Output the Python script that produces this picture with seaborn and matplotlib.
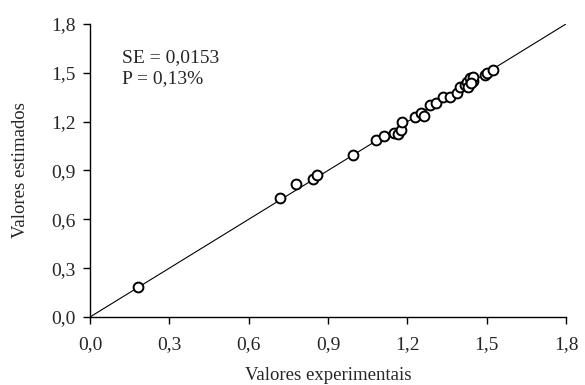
import matplotlib
matplotlib.use("Agg")
import matplotlib.pyplot as plt
import seaborn as sns
import pandas as pd

experimental = [0.18, 0.72, 0.78, 0.845, 0.86, 0.995, 1.08, 1.11, 1.15, 1.165, 1.175, 1.18,
                1.23, 1.25, 1.263, 1.286, 1.31, 1.336, 1.362, 1.387, 1.40, 1.418, 1.425,
                1.431, 1.437, 1.447, 1.45, 1.44, 1.494, 1.50, 1.525]
estimated = [0.186, 0.73, 0.815, 0.846, 0.872, 0.995, 1.085, 1.112, 1.13, 1.124, 1.149, 1.195,
             1.23, 1.255, 1.235, 1.302, 1.313, 1.353, 1.353, 1.378, 1.415, 1.425, 1.445,
             1.415, 1.466, 1.452, 1.476, 1.44, 1.487, 1.50, 1.52]
ticks = [0.0, 0.3, 0.6, 0.9, 1.2, 1.5, 1.8]
tick_labels = ["0,0", "0,3", "0,6", "0,9", "1,2", "1,5", "1,8"]
annotation = "SE = 0,0153\nP = 0,13%"

sns.set_style("white")
plt.rcParams["font.family"] = ["Liberation Serif", "DejaVu Serif"]

df = pd.DataFrame({"x": experimental, "y": estimated})

fig = plt.figure(figsize=(5.85, 3.85), dpi=100)
ax = fig.add_axes([0.1538, 0.1766, 0.8137, 0.7611])

ax.plot([0, 1.8], [0, 1.8], color="black", linewidth=0.8, zorder=1)
sns.scatterplot(data=df, x="x", y="y", ax=ax, marker="o", s=50,
                facecolor="white", edgecolor="black", linewidth=1.4, zorder=2)

ax.set_xlim(0, 1.8)
ax.set_ylim(0, 1.8)
ax.set_xticks(ticks)
ax.set_xticklabels(tick_labels)
ax.set_yticks(ticks)
ax.set_yticklabels(tick_labels)
ax.tick_params(axis="both", direction="out", length=5, width=1, color="black",
               labelsize=14, bottom=True, left=True)
ax.tick_params(axis="x", pad=9)
ax.tick_params(axis="y", pad=5)
for side in ["top", "right"]:
    ax.spines[side].set_visible(False)
for side in ["left", "bottom"]:
    ax.spines[side].set_color("black")
    ax.spines[side].set_linewidth(1)

ax.set_xlabel("Valores experimentais", fontsize=13.5, labelpad=10)
ax.set_ylabel("Valores estimados", fontsize=13.5, labelpad=16)
ax.text(0.12, 1.645, annotation, fontsize=14, va="top", ha="left", linespacing=1.3)

fig.savefig("out.png", dpi=100)
